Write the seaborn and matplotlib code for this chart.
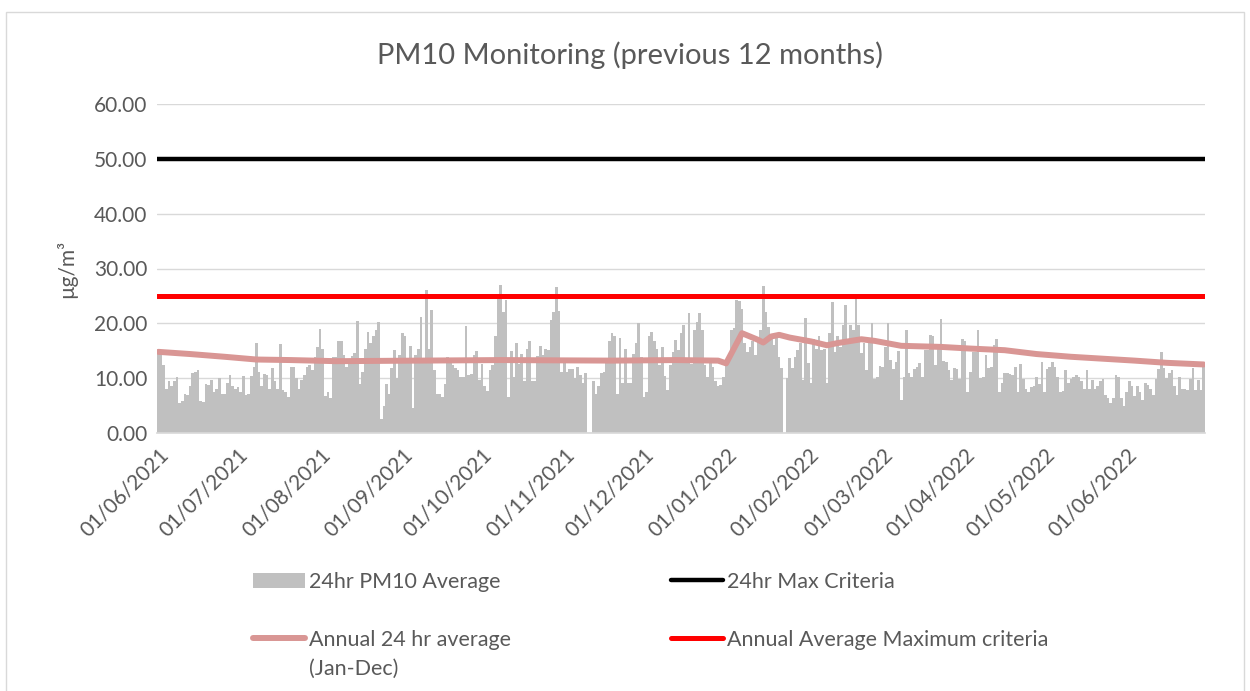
import matplotlib
matplotlib.use("Agg")
import pandas as pd
import seaborn as sns
import matplotlib.pyplot as plt
from matplotlib.patches import Patch, Rectangle
from matplotlib.lines import Line2D

# Daily 24hr PM10 averages (ug/m3), read month by month
jun_2021 = [14.5, 14.2, 12.4, 8.0, 9.4, 8.5, 9.4, 10.2, 5.5, 5.9,
            7.1, 6.9, 8.5, 10.9, 11.1, 11.4, 5.9, 5.7, 8.9, 8.8,
            9.7, 7.4, 8.0, 10.0, 7.1, 7.1, 9.1, 10.6, 8.6, 8.1]
jul_2021 = [8.3, 7.4, 10.4, 6.9, 7.2, 10.4, 12.1, 16.5, 11.2, 8.5,
            10.7, 10.5, 8.1, 11.8, 9.4, 8.0, 16.2, 7.8, 7.5, 6.5,
            12.0, 12.0, 10.0, 8.1, 9.7, 10.5, 12.0, 12.4, 11.4, 13.9, 15.6]
aug_2021 = [18.9, 15.4, 6.7, 7.5, 6.3, 13.8, 13.9, 16.8, 16.8, 14.2,
            12.0, 12.7, 14.0, 14.5, 20.4, 8.9, 11.2, 15.4, 18.5, 16.4,
            17.6, 18.7, 20.3, 2.5, 4.9, 8.9, 7.2, 11.8, 15.1, 10.0, 14.2]
sep_2021 = [18.2, 17.7, 13.7, 15.9, 4.5, 14.2, 15.3, 21.2, 13.0, 26.1,
            15.3, 22.4, 11.5, 7.2, 7.1, 6.6, 8.9, 13.8, 12.7, 12.4,
            11.8, 11.4, 10.3, 10.3, 19.5, 10.6, 10.8, 14.2, 15.0, 9.7]
oct_2021 = [12.5, 8.6, 7.7, 11.4, 12.4, 17.7, 24.4, 27.0, 22.1, 24.3,
            6.6, 15.0, 10.3, 16.5, 12.6, 14.4, 9.5, 15.4, 16.8, 9.4,
            9.5, 14.0, 15.9, 14.2, 15.4, 15.1, 20.6, 22.1, 26.7, 22.3, 11.2]
nov_2021 = [12.7, 11.2, 11.6, 11.6, 10.0, 12.0, 10.6, 9.1, 10.9, 0.0,
            0.0, 9.5, 7.2, 8.5, 11.0, 11.2, 12.7, 16.8, 18.2, 17.7,
            7.1, 17.3, 9.1, 15.3, 9.1, 9.1, 14.4, 16.4, 20.0, 13.8]
dec_2021 = [6.6, 7.4, 17.6, 18.5, 16.7, 15.4, 12.4, 15.7, 10.4, 7.8,
            12.4, 14.8, 17.0, 15.1, 18.2, 19.7, 12.7, 21.9, 12.6, 18.8,
            20.3, 21.9, 18.8, 12.4, 10.3, 12.7, 12.1, 9.4, 8.5, 8.8, 10.3]
jan_2022 = [12.4, 13.9, 18.8, 19.1, 24.3, 24.0, 22.7, 16.4, 14.7, 15.7,
            16.7, 14.2, 16.7, 18.7, 26.8, 22.1, 19.4, 17.6, 16.0, 18.2,
            13.9, 11.8, 0.0, 10.0, 13.6, 11.8, 13.8, 15.1, 16.4, 9.7, 20.9]
feb_2022 = [12.7, 9.1, 17.1, 15.4, 17.7, 15.1, 15.4, 9.1, 18.2, 23.8,
            14.7, 17.6, 15.7, 19.7, 23.3, 16.7, 19.7, 18.7, 24.4, 19.7,
            14.5, 16.4, 11.5, 17.0, 20.1, 9.8, 10.3, 12.2]
mar_2022 = [12.1, 15.7, 20.0, 13.3, 11.6, 13.0, 15.0, 6.1, 10.3, 18.8,
            10.9, 10.2, 11.6, 12.0, 12.7, 10.3, 15.1, 15.1, 17.9, 17.6,
            12.4, 15.4, 20.7, 13.2, 13.0, 11.5, 9.7, 11.8, 11.6, 9.8, 17.1]
apr_2022 = [16.7, 7.4, 11.2, 14.7, 14.7, 18.7, 10.0, 10.3, 14.2, 11.8,
            12.0, 16.0, 17.1, 7.4, 9.1, 11.0, 11.0, 10.8, 10.6, 12.0,
            7.4, 12.6, 9.8, 8.0, 7.4, 8.3, 8.6, 10.2, 8.9, 13.0]
may_2022 = [7.4, 11.6, 12.0, 13.0, 12.1, 10.3, 7.5, 7.7, 11.4, 9.2,
            9.8, 10.2, 10.6, 10.3, 9.4, 8.1, 11.5, 8.0, 9.7, 8.1,
            8.6, 9.4, 9.8, 6.9, 6.3, 5.5, 6.3, 10.6, 10.3, 6.3, 4.9]
jun_2022 = [7.5, 9.5, 8.6, 6.7, 8.6, 7.5, 6.1, 9.1, 8.8, 8.0,
            6.9, 9.8, 11.6, 14.7, 11.8, 10.0, 10.9, 11.5, 8.5, 6.9,
            10.2, 8.1, 8.0, 7.8, 9.8, 11.8, 7.8, 9.7, 7.8, 12.0]

# Annual 24 hr average (Jan-Dec), read at turning points of the line
annual_dates = ["2021-06-01", "2021-06-13", "2021-06-26", "2021-07-08", "2021-07-21",
                "2021-08-07", "2021-09-07", "2021-10-08", "2021-11-19", "2021-12-13",
                "2021-12-29", "2022-01-01", "2022-01-07", "2022-01-13", "2022-01-15",
                "2022-01-18", "2022-01-21", "2022-01-25", "2022-02-02", "2022-02-08",
                "2022-02-12", "2022-02-21", "2022-02-26", "2022-03-08", "2022-03-23",
                "2022-04-03", "2022-04-16", "2022-04-28", "2022-05-11", "2022-06-04",
                "2022-06-16", "2022-06-30"]
annual_avg = [14.8, 14.4, 13.9, 13.4, 13.3,
              13.1, 13.2, 13.3, 13.2, 13.3,
              13.2, 12.7, 18.2, 17.0, 16.5,
              17.6, 17.9, 17.4, 16.7, 16.0,
              16.4, 17.1, 16.8, 15.9, 15.7,
              15.4, 15.1, 14.4, 13.9, 13.2,
              12.8, 12.5]

max_24hr = 50.0
max_annual = 25.0

start = pd.Timestamp("2021-06-01")
pm10 = (jun_2021 + jul_2021 + aug_2021 + sep_2021 + oct_2021 + nov_2021 + dec_2021
        + jan_2022 + feb_2022 + mar_2022 + apr_2022 + may_2022 + jun_2022)
df = pd.DataFrame({"date": pd.date_range(start, periods=len(pm10), freq="D"), "pm10": pm10})
df["day"] = (df["date"] - start).dt.days
df_avg = pd.DataFrame({"date": pd.to_datetime(annual_dates), "avg": annual_avg})
df_avg["day"] = (df_avg["date"] - start).dt.days

grey_txt = "#595959"
sns.set_theme(style="white")
plt.rcParams['font.family'] = ['Lato', 'DejaVu Sans']

W, H = 1250, 691
fig = plt.figure(figsize=(W / 100, H / 100), dpi=100)
ax = fig.add_axes([157 / W, 1 - 433 / H, (1205 - 157) / W, (433 - 104) / H])
ax.set_axisbelow(True)
ax.yaxis.grid(True, color="#d9d9d9", lw=1)

sns.barplot(data=df, x="day", y="pm10", native_scale=True, width=1, color="#c0c0c0",
            saturation=1, linewidth=0, edgecolor="none", errorbar=None, ax=ax, zorder=2)
sns.lineplot(data=df_avg, x="day", y="avg", color="#d99694", lw=4.3, ax=ax, zorder=3,
             solid_capstyle="round")
ax.axhline(max_24hr, color="black", lw=3.2, zorder=4, solid_capstyle="round")
ax.axhline(max_annual, color="#ff0000", lw=3.6, zorder=4, solid_capstyle="round")

ax.set_xlim(-0.5, len(pm10) - 0.5)
ax.set_ylim(0, 60)
month_starts = pd.date_range("2021-06-01", "2022-06-01", freq="MS")
ax.set_xticks((month_starts - start).days)
ax.set_xticklabels(month_starts.strftime("%d/%m/%Y"), rotation=45, ha="right",
                   rotation_mode="anchor", fontsize=15, color=grey_txt)
ax.set_yticks(range(0, 61, 10))
ax.set_yticklabels([f"{v:.2f}" for v in range(0, 61, 10)], fontsize=15, color=grey_txt)
ax.tick_params(axis="both", length=0)
ax.tick_params(axis="x", pad=8)
ax.tick_params(axis="y", pad=7)
for side in ["left", "right", "top"]:
    ax.spines[side].set_visible(False)
ax.spines["bottom"].set_color("#d9d9d9")
ax.set_xlabel("")
ax.set_ylabel("µg/m³", fontsize=15, color=grey_txt, labelpad=12)

fig.text(0.504, 1 - 55 / H, "PM10 Monitoring (previous 12 months)", ha="center",
         va="center", fontsize=21, color=grey_txt)

# Legend: two columns, drawn as two figure legends
leg_kw = dict(loc="upper left", frameon=False, fontsize=15.5, labelcolor=grey_txt,
              handlelength=2.4, handletextpad=0.2, labelspacing=1.75,
              borderpad=0, borderaxespad=0)
leg1 = fig.legend([Patch(facecolor="#c0c0c0", edgecolor="none"),
                   Line2D([], [], color="#d99694", lw=4.3, solid_capstyle="round")],
                  ["24hr PM10 Average", "Annual 24 hr average"],
                  bbox_to_anchor=(253 / W, 1 - 572 / H), **leg_kw)
leg2 = fig.legend([Line2D([], [], color="black", lw=3.2, solid_capstyle="round"),
                   Line2D([], [], color="#ff0000", lw=3.6, solid_capstyle="round")],
                  ["24hr Max Criteria", "Annual Average Maximum criteria"],
                  bbox_to_anchor=(671 / W, 1 - 572 / H), **leg_kw)

fig.canvas.draw()
bb = leg1.get_texts()[1].get_window_extent()
fig.text(bb.x0 / W, ((bb.y0 + bb.y1) / 2 - 29) / H, "(Jan-Dec)",
         fontsize=15.5, color=grey_txt, ha="left", va="center")

fig.add_artist(Rectangle((6 / W, -0.01), 1238 / W, 1 - 12 / H + 0.01,
                         transform=fig.transFigure, fill=False, edgecolor="#d9d9d9", lw=1))

fig.savefig("out.png", dpi=100)
